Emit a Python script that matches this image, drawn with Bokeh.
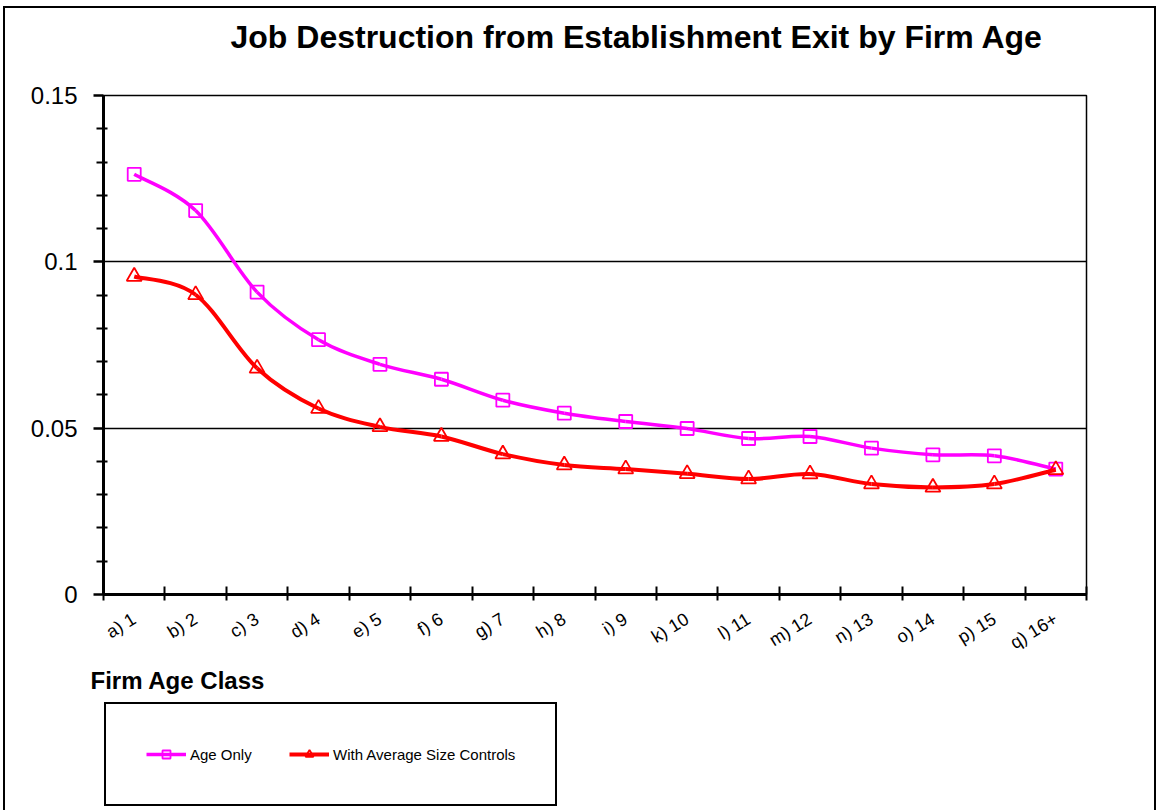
from bokeh.plotting import figure
from bokeh.layouts import column
from bokeh.models import (Range1d, FixedTicker, NumeralTickFormatter,
                          Legend, LegendItem, ColumnDataSource)
from bokeh.embed import file_html
from bokeh.resources import INLINE

categories = ["a) 1", "b) 2", "c) 3", "d) 4", "e) 5", "f) 6", "g) 7", "h) 8",
              "i) 9", "k) 10", "l) 11", "m) 12", "n) 13", "o) 14", "p) 15", "q) 16+"]
age_only = [0.1263, 0.1154, 0.0909, 0.0766, 0.0692, 0.0647, 0.0584, 0.0545,
            0.0520, 0.0499, 0.0469, 0.0475, 0.0440, 0.0420, 0.0417, 0.0377]
size_controls = [0.0956, 0.0901, 0.0680, 0.0559, 0.0504, 0.0475, 0.0422, 0.0389,
                 0.0377, 0.0363, 0.0347, 0.0362, 0.0332, 0.0322, 0.0332, 0.0375]
series_names = ["Age Only", "With Average Size Controls"]
y_ticks = [0, 0.05, 0.1, 0.15]
y_minor = [0.01, 0.02, 0.03, 0.04, 0.06, 0.07, 0.08, 0.09, 0.11, 0.12, 0.13, 0.14]

FONT = "Liberation Sans"
MAGENTA = "#FF00FF"
RED = "#FF0000"
W = 1153
BORDER = "2px solid black"
n = len(categories)
xc = [i + 0.5 for i in range(n)]


def smooth_source(xs, ys):
    # Bezier control points (Excel-style smoothed line, tension 1/6)
    d = dict(x0=[], y0=[], x1=[], y1=[], cx0=[], cy0=[], cx1=[], cy1=[])
    m = len(xs)
    for i in range(m - 1):
        ip, inn = max(i - 1, 0), min(i + 2, m - 1)
        d["x0"].append(xs[i]); d["y0"].append(ys[i])
        d["x1"].append(xs[i + 1]); d["y1"].append(ys[i + 1])
        d["cx0"].append(xs[i] + (xs[i + 1] - xs[ip]) / 6)
        d["cy0"].append(ys[i] + (ys[i + 1] - ys[ip]) / 6)
        d["cx1"].append(xs[i + 1] - (xs[inn] - xs[i]) / 6)
        d["cy1"].append(ys[i + 1] - (ys[inn] - ys[i]) / 6)
    return ColumnDataSource(d)


def add_series(fig, xs, ys_a, ys_b):
    r1 = fig.bezier("x0", "y0", "x1", "y1", "cx0", "cy0", "cx1", "cy1",
                    source=smooth_source(xs, ys_a), line_color=MAGENTA, line_width=3.5)
    m1 = fig.scatter(xs, ys_a, marker="square", size=13, fill_color=None,
                     line_color=MAGENTA, line_width=1.8)
    r2 = fig.bezier("x0", "y0", "x1", "y1", "cx0", "cy0", "cx1", "cy1",
                    source=smooth_source(xs, ys_b), line_color=RED, line_width=4)
    m2 = fig.scatter(xs, ys_b, marker="triangle", size=15, fill_color=None,
                     line_color=RED, line_width=1.8)
    return r1, m1, r2, m2


# ---------------- title strip ----------------
t = figure(width=W, height=60, output_backend="svg", toolbar_location=None,
           x_axis_location=None, y_axis_location=None,
           x_range=Range1d(0, 1), y_range=Range1d(0, 1),
           min_border_left=0, min_border_right=0, min_border_top=58,
           min_border_bottom=0,
           title="Job Destruction from Establishment Exit by Firm Age",
           background_fill_color="white", border_fill_color="white",
           styles={"border-left": BORDER, "border-top": BORDER, "border-right": BORDER})
t.grid.visible = False
t.outline_line_color = None
t.title.text_font = FONT
t.title.text_font_size = "32px"
t.title.text_font_style = "bold"
t.title.text_color = "black"
t.title.align = "left"
t.title.vertical_align = "bottom"
t.title.offset = 127
t.title.standoff = 27

# ---------------- main chart ----------------
p = figure(width=W, height=598, output_backend="svg", toolbar_location=None,
           x_range=Range1d(0, n), y_range=Range1d(0, 0.15),
           min_border_left=98, min_border_right=72, min_border_top=29,
           min_border_bottom=68,
           background_fill_color="white", border_fill_color="white",
           styles={"border-left": BORDER, "border-right": BORDER})

p.outline_line_color = "black"
p.outline_line_width = 1.5

ya = p.yaxis[0]
ya.ticker = FixedTicker(ticks=y_ticks, minor_ticks=y_minor)
ya.formatter = NumeralTickFormatter(format="0.[00]")
ya.axis_line_width = 3
ya.axis_line_color = "black"
ya.major_tick_in = 0
ya.major_tick_out = 10
ya.major_tick_line_width = 2.5
ya.minor_tick_in = 4
ya.minor_tick_out = 7
ya.minor_tick_line_width = 2
ya.major_label_text_font = FONT
ya.major_label_text_font_size = "24px"
ya.major_label_text_color = "black"
ya.major_label_standoff = 16

xa = p.xaxis[0]
xa.ticker = FixedTicker(ticks=xc, minor_ticks=list(range(n + 1)))
xa.major_label_overrides = {x: c for x, c in zip(xc, categories)}
xa.major_label_orientation = 0.55
xa.axis_line_width = 3
xa.axis_line_color = "black"
xa.major_tick_in = 0
xa.major_tick_out = 0
xa.minor_tick_in = 8
xa.minor_tick_out = 6
xa.minor_tick_line_width = 2
xa.major_label_text_font = FONT
xa.major_label_text_font_size = "18px"
xa.major_label_text_color = "black"
xa.major_label_standoff = 17

p.xgrid.visible = False
p.ygrid.ticker = FixedTicker(ticks=y_ticks)
p.ygrid.grid_line_color = "black"
p.ygrid.grid_line_width = 1.5

add_series(p, xc, age_only, size_controls)

# ---------------- x-axis title + legend strip ----------------
# same series drawn again, outside this strip's visible y-range, only to feed the legend
q = figure(width=W, height=146, output_backend="svg", toolbar_location=None,
           x_axis_location=None, y_axis_location=None,
           x_range=Range1d(0, 1), y_range=Range1d(1, 2),
           min_border_left=0, min_border_right=0, min_border_top=27,
           min_border_bottom=0, title="Firm Age Class",
           background_fill_color="white", border_fill_color="white",
           styles={"border-left": BORDER, "border-right": BORDER})
q.grid.visible = False
q.outline_line_color = None
q.title.text_font = FONT
q.title.text_font_size = "24px"
q.title.text_font_style = "bold"
q.title.text_color = "black"
q.title.align = "left"
q.title.vertical_align = "bottom"
q.title.offset = -13
q.title.standoff = 0

lb1, lm1, lb2, lm2 = add_series(q, xc, age_only, size_controls)

legend = Legend(items=[LegendItem(label=series_names[0], renderers=[lb1, lm1]),
                       LegendItem(label=series_names[1], renderers=[lb2, lm2])],
                orientation="horizontal", location=(1, 4),
                padding=40, spacing=7, glyph_width=40, glyph_height=20,
                label_standoff=4, label_width=92, label_height=20,
                label_text_font=FONT, label_text_font_size="15px",
                label_text_color="black",
                border_line_color="black", border_line_width=2,
                border_line_alpha=1,
                background_fill_color="white", background_fill_alpha=1,
                margin=0)
q.add_layout(legend, "center")

layout = column(t, p, q, spacing=0, margin=(6, 0, 0, 3))

open("out.html", "w").write(file_html(layout, INLINE))
